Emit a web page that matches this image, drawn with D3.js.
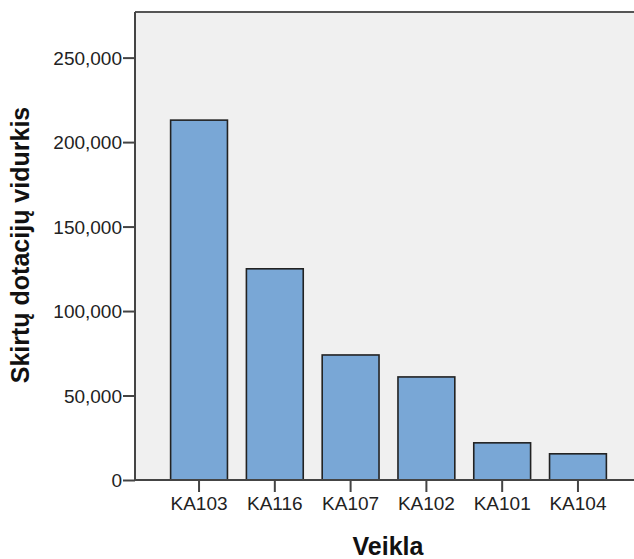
<!DOCTYPE html>
<html><head><meta charset="utf-8">
<script src="https://cdn.jsdelivr.net/npm/d3@7"></script>
<style>body{margin:0;background:#fff}svg{display:block}</style>
</head><body><svg id="c" width="634" height="559"></svg>
<script>
const categories = ["KA103","KA116","KA107","KA102","KA101","KA104"];
const values = [213000, 125000, 74000, 61000, 22000, 15500];
const yTicks = [0, 50000, 100000, 150000, 200000, 250000];
const yTitle = "Skirtų dotacijų vidurkis";
const xTitle = "Veikla";

const svg = d3.select("#c");
const L = 135, T = 12, B = 480, R = 642;
const x = d3.scaleBand().domain(categories).range([L, R]).paddingInner(0.25).paddingOuter(0.47);
const y = d3.scaleLinear().domain([0, 277000]).range([B, T]);
const FF = "Arial, 'Liberation Sans', sans-serif";

svg.append("rect").attr("x", L).attr("y", T).attr("width", 634 - L).attr("height", B - T).attr("fill", "#f0f0f0");

svg.selectAll("rect.bar").data(values).enter().append("rect").attr("class","bar")
  .attr("x", (d,i) => x(categories[i]))
  .attr("y", d => y(d))
  .attr("width", x.bandwidth())
  .attr("height", d => B - y(d))
  .attr("fill", "#79a7d6").attr("stroke", "#222").attr("stroke-width", 1.6);

svg.append("line").attr("x1", L).attr("x2", 634).attr("y1", T).attr("y2", T).attr("stroke", "#555").attr("stroke-width", 2);

const fmt = d => d === 0 ? "0" : d3.format(",")(d);
const yAxis = svg.append("g").attr("transform", `translate(${L},0)`)
  .call(d3.axisLeft(y).tickValues(yTicks).tickFormat(fmt).tickSize(12).tickPadding(1));
const xAxis = svg.append("g").attr("transform", `translate(0,${B})`)
  .call(d3.axisBottom(x).tickSize(12).tickPadding(5));
[yAxis, xAxis].forEach(g => {
  g.attr("font-size", null).attr("font-family", null);
  g.select(".domain").attr("stroke", "#444").attr("stroke-width", 2);
  g.selectAll(".tick line").attr("stroke", "#444").attr("stroke-width", 2);
  g.selectAll("text").attr("font-family", FF).attr("font-size", 19).attr("fill", "#222");
});
xAxis.select(".domain").attr("d", `M${L},0H634`);
yAxis.select(".domain").attr("d", `M0,${T}V${B}`);
yAxis.selectAll("text").attr("dy", "0.36em");

svg.append("text").attr("transform", "translate(29,245) rotate(-90)").attr("text-anchor", "middle")
  .attr("font-family", FF).attr("font-weight", "bold").attr("font-size", 25).attr("fill", "#111").text(yTitle);
svg.append("text").attr("x", 388).attr("y", 555).attr("text-anchor", "middle")
  .attr("font-family", FF).attr("font-weight", "bold").attr("font-size", 25).attr("fill", "#111").text(xTitle);
</script></body></html>
